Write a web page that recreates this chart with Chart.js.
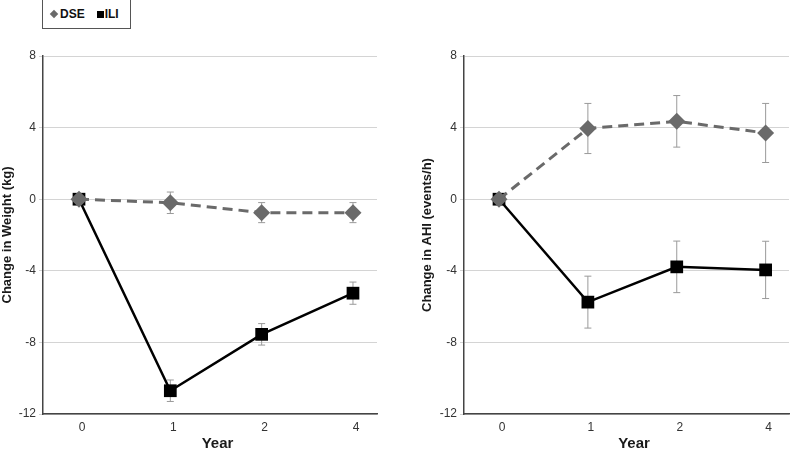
<!DOCTYPE html>
<html>
<head>
<meta charset="utf-8">
<script src="https://cdn.jsdelivr.net/npm/chart.js@4"></script>
<style>
  html, body { margin: 0; padding: 0; background: #fff; overflow: hidden; }
  #wrap { position: relative; width: 798px; height: 449px; overflow: hidden; }
  .box { position: absolute; top: 0; height: 456px; }
  #left { left: 0; width: 390px; }
  #right { left: 400px; width: 398px; }
  #legend {
    position: absolute; left: 42px; top: -1px; width: 89px; height: 30px;
    border: 1px solid #555; background: #fff;
    font: bold 12px "Liberation Sans", Arial, sans-serif; color: #111;
    display: flex; align-items: center; padding-left: 8px; box-sizing: border-box;
  }
  #legend .dia { display: inline-block; width: 6px; height: 6px; background: #6a6a6a; transform: rotate(45deg); margin-right: 3px; }
  #legend .sq { display: inline-block; width: 7px; height: 7px; background: #000; margin-left: 12px; margin-right: 1px; }
</style>
</head>
<body>
<div id="wrap">
  <div class="box" id="left"><canvas id="weight"></canvas></div>
  <div class="box" id="right"><canvas id="ahi"></canvas></div>
  <div id="legend"><span class="dia"></span>DSE<span class="sq"></span>ILI</div>
</div>
<script>
const years = ['0', '1', '2', '4'];

// change in weight (kg)
const weightDSE = [0, -0.2, -0.75, -0.75];
const weightDSEErr = [0, 0.6, 0.56, 0.56];
const weightILI = [0, -10.7, -7.55, -5.25];
const weightILIErr = [0, 0.6, 0.6, 0.62];

// change in AHI (events/h)
const ahiDSE = [0, 3.95, 4.35, 3.7];
const ahiDSEErr = [0, 1.4, 1.44, 1.65];
const ahiILI = [0, -5.75, -3.78, -3.95];
const ahiILIErr = [0, 1.45, 1.44, 1.6];

const yTicks = [8, 4, 0, -4, -8, -12];

const tickFont = { family: "'Liberation Sans Narrow', 'Liberation Sans', Arial, sans-serif", size: 12 };
const titleFont = { family: "'Liberation Sans', Arial, sans-serif", size: 13, weight: 'bold' };

// vertical error bars with caps, drawn under the markers
const errorBars = {
  id: 'errorBars',
  beforeDatasetsDraw(chart, args, opts) {
    const ctx = chart.ctx;
    const x = chart.scales.x, y = chart.scales.y;
    ctx.save();
    ctx.strokeStyle = '#9a9a9a';
    ctx.lineWidth = 1;
    chart.data.datasets.forEach(ds => {
      ds.errors.forEach((e, i) => {
        if (!e) return;
        const px = x.getPixelForValue(i);
        const top = y.getPixelForValue(ds.values[i] + e);
        const bot = y.getPixelForValue(ds.values[i] - e);
        ctx.beginPath();
        ctx.moveTo(px, top); ctx.lineTo(px, bot);
        ctx.moveTo(px - 3.5, top); ctx.lineTo(px + 3.5, top);
        ctx.moveTo(px - 3.5, bot); ctx.lineTo(px + 3.5, bot);
        ctx.stroke();
      });
    });
    ctx.restore();
  }
};

function makeChart(id, title, dse, dseErr, ili, iliErr, yWidth, titlePad) {
  const toPoints = arr => arr.map((v, i) => ({ x: i, y: v }));
  return new Chart(document.getElementById(id), {
    type: 'line',
    data: {
      datasets: [
        {
          label: 'DSE',
          values: dse,
          errors: dseErr,
          data: toPoints(dse),
          borderColor: '#6a6a6a',
          backgroundColor: '#6a6a6a',
          borderWidth: 3,
          borderDash: [10, 6],
          pointStyle: 'rectRot',
          pointRadius: 8.5,
          pointHoverRadius: 8.5,
          pointBorderWidth: 0
        },
        {
          label: 'ILI',
          values: ili,
          errors: iliErr,
          data: toPoints(ili),
          borderColor: '#000',
          backgroundColor: '#000',
          borderWidth: 2.5,
          pointStyle: 'rect',
          pointRadius: 9,
          pointHoverRadius: 9,
          pointBorderWidth: 0
        }
      ]
    },
    options: {
      responsive: true,
      maintainAspectRatio: false,
      animation: false,
      layout: { padding: { top: 56, right: id === 'weight' ? 13 : 0, left: 0, bottom: 0 } },
      plugins: {
        legend: { display: false },
        tooltip: { enabled: false }
      },
      scales: {
        x: {
          type: 'linear',
          min: -0.394,
          max: 3.263,
          afterBuildTicks: scale => { scale.ticks = years.map((y, i) => ({ value: i })); },
          afterFit: scale => { scale.height = 42; },
          grid: { display: false, drawTicks: false },
          border: { display: true, color: '#444', width: 1.5 },
          ticks: {
            callback: v => years[v],
            font: tickFont,
            color: '#333',
            padding: 6,
            labelOffset: 3,
            maxRotation: 0
          },
          title: {
            display: true,
            text: '\u2002\u2002Year',
            font: { family: "'Liberation Sans', Arial, sans-serif", size: 15, weight: 'bold' },
            color: '#1a1a1a',
            padding: { top: 0, bottom: 3 }
          }
        },
        y: {
          min: -12,
          max: 8,
          afterBuildTicks: scale => { scale.ticks = yTicks.map(v => ({ value: v })); },
          afterFit: scale => { scale.width = yWidth; },
          grid: { color: '#d4d4d4', lineWidth: 1, tickLength: 4 },
          border: { display: true, color: '#444', width: 1.5 },
          ticks: { font: tickFont, color: '#333', padding: 3 },
          title: {
            display: true,
            text: title,
            font: titleFont,
            color: '#1a1a1a',
            padding: { top: titlePad, bottom: 0 }
          }
        }
      }
    },
    plugins: [errorBars]
  });
}

makeChart('weight', 'Change in Weight (kg)', weightDSE, weightDSEErr, weightILI, weightILIErr, 43, 0);
makeChart('ahi', 'Change in AHI (events/h)', ahiDSE, ahiDSEErr, ahiILI, ahiILIErr, 64, 20);
</script>
</body>
</html>
